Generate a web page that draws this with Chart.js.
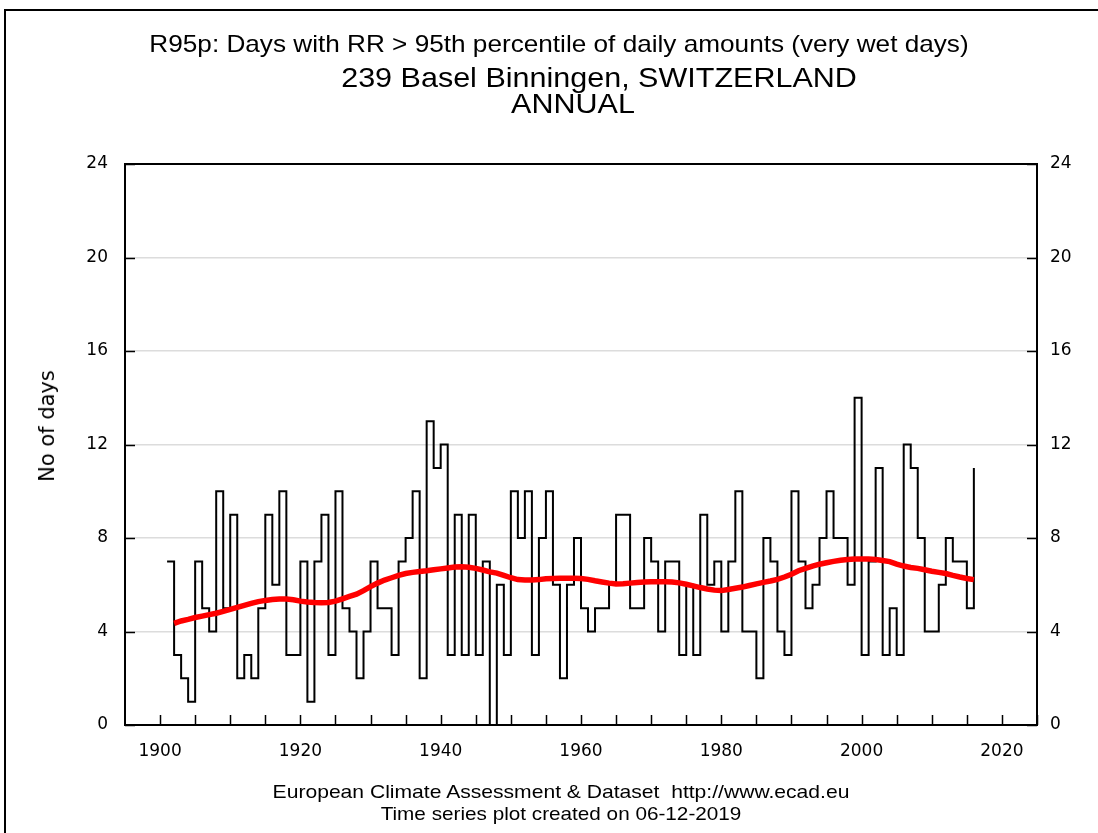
<!DOCTYPE html>
<html>
<head>
<meta charset="utf-8">
<script src="https://cdn.jsdelivr.net/npm/chart.js@4.4.1/dist/chart.umd.min.js"></script>
<style>
  html, body { margin: 0; padding: 0; background: #fff; }
  #wrap { position: relative; width: 1098px; height: 833px; overflow: hidden; }
  #frame { position: absolute; left: 4px; top: 9px; right: -10px; bottom: -10px;
           border-top: 2px solid #000; border-left: 2px solid #000; }
  canvas { position: absolute; left: 0; top: 0; }
  .txt { position: absolute; white-space: nowrap; font-family: "Liberation Sans", Arial, sans-serif;
         color: #000; transform: translate(-50%, -50%) scaleX(1.09); }
</style>
</head>
<body>
<div id="wrap">
  <div id="frame"></div>
  <canvas id="myChart" width="1098" height="833"></canvas>
  <div class="txt" style="left:559px; top:44px; font-size:24px;">R95p: Days with RR &gt; 95th percentile of daily amounts (very wet days)</div>
  <div class="txt" style="left:599px; top:78px; font-size:28px;">239 Basel Binningen, SWITZERLAND</div>
  <div class="txt" style="left:573px; top:104px; font-size:28px;">ANNUAL</div>
  <div class="txt" style="left:47px; top:426px; font-size:21px; font-family:'DejaVu Sans'; transform: translate(-50%, -50%) rotate(-90deg);">No of days</div>
  <div class="txt" style="left:561px; top:792px; font-size:19px; transform: translate(-50%, -50%) scaleX(1.11);">European Climate Assessment &amp; Dataset&nbsp; http://www.ecad.eu</div>
  <div class="txt" style="left:561px; top:814px; font-size:19px; transform: translate(-50%, -50%) scaleX(1.09);">Time series plot created on 06-12-2019</div>
</div>
<script>
// DADES

let anys = [];
for (let a = 1901; a <= 2016; a++) anys.push(a);

// dies R95p per any (1901-2016)
let diesR95p = [
	7, 3, 2, 1, 7, 5, 4, 10, 5, 9,
	2, 3, 2, 5, 9, 6, 10, 3, 3, 7,
	1, 7, 9, 3, 10, 5, 4, 2, 4, 7,
	5, 5, 3, 7, 8, 10, 2, 13, 11, 12,
	3, 9, 3, 9, 3, 7, 0, 6, 3, 10,
	8, 10, 3, 8, 10, 6, 2, 6, 8, 5,
	4, 5, 5, 6, 9, 9, 5, 5, 8, 7,
	4, 7, 7, 3, 6, 3, 9, 6, 7, 4,
	7, 10, 4, 4, 2, 8, 7, 4, 3, 10,
	7, 5, 6, 8, 10, 8, 8, 6, 14, 3,
	7, 11, 3, 5, 3, 12, 11, 8, 4, 4,
	6, 8, 7, 7, 5, 11
];

// corba suavitzada (1902-2016)
let anysSuau = [];
for (let a = 1902; a <= 2016; a++) anysSuau.push(a);

let valorsSuau = [
	4.35, 4.45, 4.52, 4.60, 4.66, 4.72, 4.78, 4.86, 4.95,
	5.03, 5.12, 5.20, 5.28, 5.33, 5.37, 5.39, 5.39, 5.36, 5.30,
	5.26, 5.24, 5.23, 5.24, 5.30, 5.40, 5.50, 5.60, 5.75, 5.92,
	6.07, 6.20, 6.30, 6.40, 6.48, 6.53, 6.57, 6.60, 6.64, 6.68,
	6.72, 6.76, 6.77, 6.75, 6.70, 6.63, 6.55, 6.50, 6.40, 6.30,
	6.22, 6.20, 6.20, 6.22, 6.26, 6.27, 6.28, 6.28, 6.28, 6.27,
	6.23, 6.17, 6.12, 6.07, 6.03, 6.04, 6.07, 6.10, 6.12, 6.13,
	6.13, 6.13, 6.12, 6.08, 6.02, 5.95, 5.88, 5.82, 5.77, 5.75,
	5.80, 5.85, 5.90, 5.97, 6.04, 6.10, 6.16, 6.23, 6.33, 6.45,
	6.60, 6.70, 6.80, 6.88, 6.94, 7.00, 7.05, 7.08, 7.10, 7.10,
	7.10, 7.08, 7.04, 6.99, 6.88, 6.80, 6.74, 6.70, 6.64, 6.58,
	6.53, 6.48, 6.40, 6.33, 6.27, 6.22
];

let xEtiquetes = [1900, 1920, 1940, 1960, 1980, 2000, 2020];
let xMarques = [];
for (let a = 1900; a <= 2025; a += 5) xMarques.push(a);
let yEtiquetes = [0, 4, 8, 12, 16, 20, 24];

//FUNCIONS

// marc negre i marques cap a dins
const marcPlugin = {
	id: 'marc',
	afterDraw(chart) {
		const ctx = chart.ctx;
		const area = chart.chartArea;
		const x = chart.scales.x;
		const y = chart.scales.y;
		ctx.save();
		ctx.strokeStyle = '#000';
		ctx.lineWidth = 1.5;
		ctx.beginPath();
		xMarques.forEach(a => {
			let px = Math.round(x.getPixelForValue(a)) + 0.5;
			ctx.moveTo(px, area.bottom);
			ctx.lineTo(px, area.bottom - 10);
		});
		yEtiquetes.forEach(v => {
			let py = Math.round(y.getPixelForValue(v)) + 0.5;
			ctx.moveTo(area.left, py);
			ctx.lineTo(area.left + 10, py);
			ctx.moveTo(area.right, py);
			ctx.lineTo(area.right - 10, py);
		});
		ctx.stroke();
		ctx.lineWidth = 2;
		ctx.strokeRect(area.left, area.top, area.right - area.left, area.bottom - area.top);
		ctx.restore();
	}
};

const fontTicks = { family: 'DejaVu Sans', size: 17 };

const dades = {
	datasets: [
		{
			label: 'R95p',
			data: anys.map((a, i) => ({ x: a, y: diesR95p[i] })),
			borderColor: '#000',
			borderWidth: 2,
			stepped: true,
			pointRadius: 0,
			fill: false,
			clip: 6,
			order: 2
		},
		{
			label: 'suau',
			data: anysSuau.map((a, i) => ({ x: a, y: valorsSuau[i] })),
			borderColor: '#ff0000',
			borderWidth: 5.5,
			pointRadius: 0,
			tension: 0,
			fill: false,
			order: 1
		}
	]
};

const config = {
	type: 'line',
	data: dades,
	plugins: [marcPlugin],
	options: {
		responsive: false,
		animation: false,
		layout: { padding: { top: 164, left: 0, right: 0, bottom: 0 } },
		plugins: {
			legend: { display: false },
			tooltip: { enabled: false }
		},
		scales: {
			x: {
				type: 'linear',
				min: 1895,
				max: 2025,
				afterBuildTicks: (s) => { s.ticks = xEtiquetes.map(v => ({ value: v })); },
				afterFit: (s) => { s.height = 108; },
				grid: { display: false, drawTicks: false },
				border: { display: false },
				ticks: {
					padding: 16,
					color: '#000',
					font: fontTicks,
					callback: (v) => String(v)
				}
			},
			y: {
				position: 'left',
				min: 0,
				max: 24,
				afterBuildTicks: (s) => { s.ticks = yEtiquetes.map(v => ({ value: v })); },
				afterFit: (s) => { s.width = 125; },
				grid: {
					drawTicks: false,
					color: (c) => (c.tick && (c.tick.value === 0 || c.tick.value === 24)) ? 'rgba(0,0,0,0)' : '#dcdcdc',
					lineWidth: 1.5
				},
				border: { display: false },
				ticks: {
					padding: 17,
					color: '#000',
					font: fontTicks
				}
			},
			y2: {
				position: 'right',
				min: 0,
				max: 24,
				afterBuildTicks: (s) => { s.ticks = yEtiquetes.map(v => ({ value: v })); },
				afterFit: (s) => { s.width = 61; },
				grid: { display: false, drawTicks: false },
				border: { display: false },
				ticks: {
					padding: 13,
					color: '#000',
					font: fontTicks
				}
			}
		}
	}
};

const myChart = new Chart(document.getElementById('myChart'), config);
</script>
</body>
</html>
